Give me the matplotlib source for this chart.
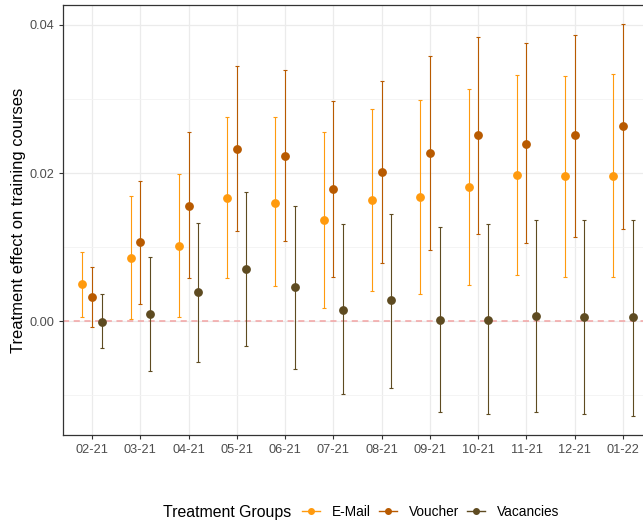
import numpy as np
import matplotlib
matplotlib.use("Agg")
import matplotlib.pyplot as plt
from matplotlib.lines import Line2D

plt.rcParams["font.family"] = ["Liberation Sans", "DejaVu Sans"]

months = ["02-21", "03-21", "04-21", "05-21", "06-21", "07-21",
          "08-21", "09-21", "10-21", "11-21", "12-21", "01-22"]

# point estimates and confidence bounds
email_est = [0.0050, 0.0085, 0.0101, 0.0166, 0.0160, 0.0136,
             0.0164, 0.0167, 0.0181, 0.0197, 0.0196, 0.0196]
email_lo = [0.0006, 0.0003, 0.0005, 0.0058, 0.0047, 0.0018,
            0.0041, 0.0037, 0.0048, 0.0062, 0.0059, 0.0059]
email_hi = [0.0093, 0.0169, 0.0199, 0.0275, 0.0275, 0.0255,
            0.0286, 0.0298, 0.0313, 0.0332, 0.0331, 0.0334]

voucher_est = [0.0033, 0.0107, 0.0156, 0.0232, 0.0223, 0.0178,
               0.0201, 0.0227, 0.0251, 0.0239, 0.0251, 0.0263]
voucher_lo = [-0.0008, 0.0023, 0.0058, 0.0122, 0.0108, 0.0059,
              0.0078, 0.0096, 0.0118, 0.0105, 0.0114, 0.0125]
voucher_hi = [0.0073, 0.0189, 0.0255, 0.0345, 0.0339, 0.0297,
              0.0324, 0.0358, 0.0384, 0.0375, 0.0386, 0.0401]

vac_est = [-0.0001, 0.0010, 0.0039, 0.0070, 0.0046, 0.0015,
           0.0028, 0.0001, 0.0001, 0.0007, 0.0006, 0.0005]
vac_lo = [-0.0037, -0.0068, -0.0056, -0.0034, -0.0065, -0.0098,
          -0.0091, -0.0123, -0.0126, -0.0123, -0.0126, -0.0128]
vac_hi = [0.0036, 0.0087, 0.0132, 0.0175, 0.0155, 0.0131,
          0.0145, 0.0127, 0.0131, 0.0137, 0.0136, 0.0136]

groups = ["E-Mail", "Voucher", "Vacancies"]
colors = ["#FF9A0E", "#B85A00", "#5E4B21"]
series = [(email_est, email_lo, email_hi),
          (voucher_est, voucher_lo, voucher_hi),
          (vac_est, vac_lo, vac_hi)]
offsets = [-0.2, 0.0, 0.2]

fig = plt.figure(figsize=(6.43, 5.24), dpi=100)
# panel runs a little past the right edge, like the original
ax = fig.add_axes([63 / 643, 89 / 524, 589 / 643, 430 / 524])

x = np.arange(1, len(months) + 1)
for (est, lo, hi), col, off in zip(series, colors, offsets):
    est = np.array(est)
    yerr = [est - np.array(lo), np.array(hi) - est]
    ax.errorbar(x + off, est, yerr=yerr, fmt="o", color=col, ecolor=col,
                markersize=5.3, elinewidth=0.8, capsize=1.6, capthick=0.8,
                zorder=3)

ax.axhline(0, color="#F2A3A3", linestyle=(0, (4, 3)), linewidth=1.1, zorder=2)

ax.set_xlim(0.4, 12.6)
ax.set_ylim(-0.0154, 0.0427)
ax.set_xticks(x)
ax.set_xticklabels(months)
ax.set_yticks([0.0, 0.02, 0.04])
ax.set_yticklabels(["0.00", "0.02", "0.04"])
ax.set_yticks([-0.01, 0.01, 0.03], minor=True)

ax.grid(True, which="major", color="#EBEBEB", linewidth=0.9, zorder=0)
ax.grid(True, which="minor", axis="y", color="#F3F3F3", linewidth=0.6, zorder=0)
ax.set_axisbelow(True)

for s in ax.spines.values():
    s.set_color("#333333")
    s.set_linewidth(0.9)

ax.tick_params(axis="both", which="major", length=3, color="#333333",
               labelcolor="#4D4D4D", labelsize=9.2, width=0.8)
ax.tick_params(axis="y", which="minor", length=0)

ax.set_ylabel("Treatment effect on training courses", fontsize=11.9,
              color="black", labelpad=2)

handles = [Line2D([0], [0], color=c, marker="o", markersize=4, linewidth=1)
           for c in colors]
fig.text(163 / 643, 1 - 512 / 524, "Treatment Groups", fontsize=11.4,
         va="center", ha="left")
fig.legend(handles, groups, loc="center left",
           bbox_to_anchor=(302 / 643, 1 - 512 / 524), ncol=3, frameon=False,
           fontsize=9.8, handlelength=1.3, handletextpad=0.9, columnspacing=0.6,
           borderaxespad=0, borderpad=0)

fig.savefig("out.png", dpi=100)
